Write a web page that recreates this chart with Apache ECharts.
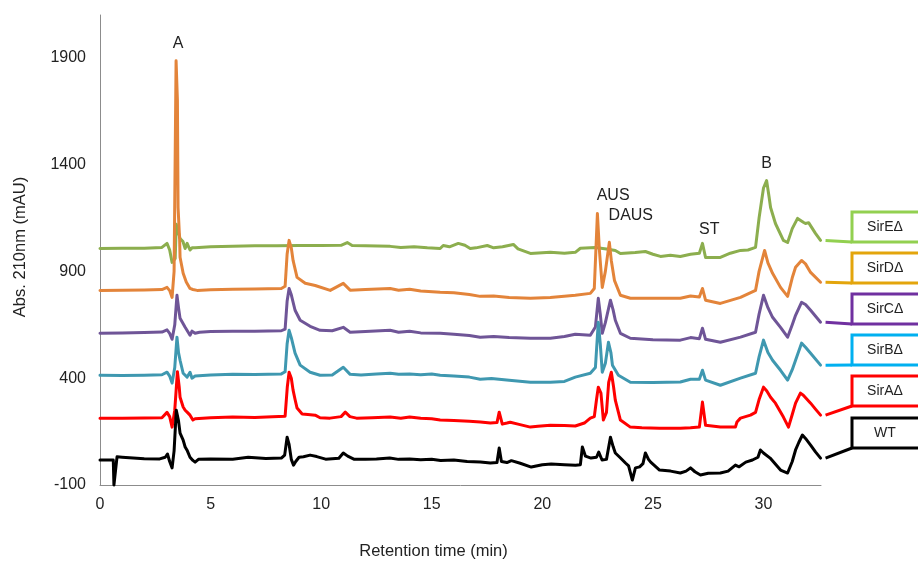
<!DOCTYPE html>
<html>
<head>
<meta charset="utf-8">
<script src="https://cdn.jsdelivr.net/npm/echarts@6/dist/echarts.min.js"></script>
<style>
html,body{margin:0;padding:0;background:#fff;}
#chart{width:918px;height:561px;}
</style>
</head>
<body>
<div id="chart"></div>
<script>
// ---- Data (retention time [min], absorbance [mAU]) ----
const seriesNames = ['SirE\u0394', 'SirD\u0394', 'SirC\u0394', 'SirB\u0394', 'SirA\u0394', 'WT'];

const sirE = [[0,1007],[1,1008],[2,1008],[2.8,1012],[3.03,1031],[3.15,1000],[3.26,942],[3.4,960],[3.45,1120],[3.62,1054],[3.75,1040],[3.85,1007],[3.94,1031],[4.07,1000],[4.16,1010],[4.3,1010],[5,1015],[6,1017],[7,1020],[8,1020],[9,1021],[10,1021],[10.9,1022],[11.18,1035],[11.4,1021],[12,1020],[13.12,1017],[13.6,1012],[14.2,1015],[14.8,1010],[15.38,1007],[15.52,1021],[15.8,1015],[16.2,1031],[16.5,1022],[16.74,1007],[17.0,1010],[17.51,1021],[17.8,1010],[18.2,1015],[18.69,1026],[18.9,1005],[19.46,984],[20.36,989],[21.0,985],[21.49,989],[21.72,1008],[22.4,1012],[22.9,1005],[23.3,998],[23.53,984],[24.2,988],[24.66,993],[25.0,980],[25.34,970],[25.79,975],[26.24,970],[26.7,980],[27.1,985],[27.24,1031],[27.38,965],[28.05,965],[28.5,985],[28.96,998],[29.3,1000],[29.64,1012],[29.8,1150],[30.0,1290],[30.14,1325],[30.25,1250],[30.32,1199],[30.54,1124],[30.9,1045],[31.09,1035],[31.3,1100],[31.54,1148],[31.8,1130],[31.9,1124],[32.04,1128],[32.35,1078],[32.58,1045]];

const sirD = [[0,811],[1,812],[2,813],[2.8,815],[3.03,825],[3.15,810],[3.26,778],[3.35,900],[3.44,1886],[3.5,1700],[3.53,1199],[3.6,1050],[3.62,966],[3.76,891],[3.9,850],[4.07,820],[4.2,815],[4.39,811],[5,814],[6,816],[7,817],[8.2,820],[8.37,830],[8.46,980],[8.55,1045],[8.65,1010],[8.73,951],[8.91,872],[9.28,844],[9.73,834],[10.41,811],[11.0,844],[11.31,812],[12,815],[13.12,820],[13.5,812],[14,816],[14.5,808],[15.38,802],[16,800],[16.7,792],[17.19,783],[17.8,785],[18.5,778],[19.46,774],[20.36,778],[21.49,788],[22.17,797],[22.35,820],[22.49,1171],[22.58,1000],[22.71,825],[22.85,900],[23.03,1036],[23.12,950],[23.26,858],[23.53,788],[23.98,774],[25,774],[26.24,774],[26.7,785],[27.1,780],[27.24,820],[27.38,765],[28.05,750],[28.96,778],[29.64,811],[29.8,900],[30.05,998],[30.2,940],[30.41,891],[30.77,825],[31.09,783],[31.3,870],[31.45,919],[31.72,951],[31.9,935],[32.13,895],[32.58,849]];

const sirC = [[0,610],[1,612],[2,614],[2.8,616],[3.03,626],[3.15,610],[3.26,582],[3.38,650],[3.48,788],[3.55,730],[3.62,680],[3.85,638],[4.07,601],[4.16,620],[4.3,610],[4.5,615],[5,618],[6,620],[7,620],[8.2,622],[8.37,630],[8.46,760],[8.55,820],[8.65,790],[8.82,718],[9.05,671],[9.5,643],[9.95,624],[10.5,622],[11.0,638],[11.31,615],[12,618],[13.12,624],[13.5,615],[14,620],[14.5,612],[15.38,610],[16,606],[16.7,600],[17.19,592],[17.8,595],[18.5,590],[19.46,587],[20.36,587],[21.0,595],[21.49,606],[22.17,601],[22.4,640],[22.53,774],[22.62,700],[22.71,610],[22.85,660],[23.08,765],[23.2,720],[23.3,671],[23.53,610],[23.98,587],[25,580],[26.24,578],[26.7,590],[27.1,585],[27.24,634],[27.38,582],[28.05,568],[28.96,592],[29.64,615],[29.8,700],[30.0,788],[30.2,730],[30.41,685],[30.77,638],[31.09,592],[31.3,650],[31.45,694],[31.72,755],[31.9,745],[32.13,718],[32.58,662]];

const sirB = [[0,414],[1,413],[2,414],[2.8,416],[3.03,428],[3.15,410],[3.26,377],[3.38,450],[3.48,592],[3.55,520],[3.62,484],[3.76,423],[3.94,405],[4.07,428],[4.16,400],[4.3,410],[4.39,414],[5,415],[6,418],[7,417],[8.2,420],[8.37,430],[8.46,560],[8.55,624],[8.65,590],[8.82,517],[9.05,461],[9.5,428],[9.95,414],[10.5,415],[11.0,451],[11.31,418],[11.8,415],[12.5,420],[13.12,423],[13.5,418],[14.0,420],[14.5,416],[15.0,420],[15.38,414],[16,410],[16.7,405],[17.19,395],[17.7,398],[18.5,390],[19.46,381],[20.36,381],[21.0,385],[21.49,405],[22.17,423],[22.4,450],[22.53,662],[22.62,560],[22.71,428],[22.85,470],[22.99,568],[23.1,520],[23.17,461],[23.44,414],[23.98,381],[25,380],[26.24,382],[26.7,395],[27.1,395],[27.24,437],[27.38,391],[28.05,367],[28.96,400],[29.64,423],[29.8,500],[30.0,578],[30.2,520],[30.41,484],[30.77,437],[31.09,391],[31.3,440],[31.45,484],[31.72,564],[31.9,545],[32.13,517],[32.58,461]];

const sirA = [[0,213],[1,213],[2,214],[2.8,215],[3.03,240],[3.15,220],[3.26,171],[3.38,250],[3.5,430],[3.58,360],[3.62,311],[3.76,265],[3.85,250],[3.95,240],[4.07,227],[4.15,235],[4.2,204],[4.3,210],[4.39,213],[5,215],[6,218],[7,216],[7.8,220],[8.37,222],[8.47,360],[8.55,428],[8.65,400],[8.73,344],[8.82,300],[8.91,260],[9.14,232],[9.4,230],[9.73,227],[9.95,215],[10.4,213],[10.9,220],[11.09,241],[11.3,220],[11.6,213],[12.3,215],[13.12,218],[13.6,212],[14.0,218],[14.5,212],[15.0,210],[15.38,204],[16,202],[16.7,198],[17.2,195],[17.65,190],[17.95,192],[18.05,241],[18.19,185],[18.4,190],[18.55,194],[18.9,185],[19.46,171],[19.8,175],[20.36,180],[21,178],[21.49,176],[21.9,190],[22.17,213],[22.35,220],[22.45,300],[22.53,358],[22.65,330],[22.76,204],[22.9,240],[23.0,380],[23.12,428],[23.22,360],[23.3,297],[23.53,204],[23.98,171],[24.5,168],[25.3,166],[26.24,166],[26.7,168],[27.1,171],[27.24,288],[27.38,180],[28.05,171],[28.73,171],[28.8,195],[28.96,213],[29.41,227],[29.64,240],[29.8,300],[30.0,358],[30.15,340],[30.32,311],[30.54,283],[30.9,218],[31.13,171],[31.3,230],[31.45,283],[31.67,330],[31.8,320],[32.13,283],[32.35,255],[32.58,227]];

const wt = [[0,17],[0.6,17],[0.63,-100],[0.7,-100],[0.77,32],[1.0,30],[1.5,26],[2.0,23],[2.7,22],[2.95,30],[3.05,45],[3.15,10],[3.26,-20],[3.35,60],[3.45,250],[3.55,200],[3.62,143],[3.76,110],[3.85,78],[3.95,60],[4.07,30],[4.2,15],[4.3,7],[4.45,20],[5.0,22],[6.0,21],[6.7,30],[7.5,24],[8.2,26],[8.35,40],[8.46,124],[8.55,90],[8.65,20],[8.75,-7],[8.85,10],[9.0,30],[9.2,32],[9.5,40],[9.8,33],[10.2,21],[10.8,25],[11.0,50],[11.2,35],[11.5,20],[12.0,21],[12.5,22],[13.1,26],[13.5,20],[14.0,22],[14.5,18],[15.0,20],[15.4,15],[16.0,17],[16.6,10],[17.2,8],[17.65,3],[17.95,5],[18.05,73],[18.15,10],[18.4,5],[18.6,14],[19.0,2],[19.5,-16],[20.0,-5],[20.4,-2],[21.0,-5],[21.5,-7],[21.72,-5],[21.81,78],[21.95,35],[22.2,26],[22.45,30],[22.55,54],[22.7,17],[22.9,20],[23.08,124],[23.2,80],[23.3,50],[23.5,30],[23.76,3],[23.9,-10],[24.07,-77],[24.21,-20],[24.4,-15],[24.55,0],[24.66,50],[24.8,20],[24.9,7],[25.3,-30],[25.8,-35],[26.24,-44],[26.5,-35],[26.7,-20],[26.9,-38],[27.15,-53],[27.5,-45],[28.05,-44],[28.4,-35],[28.73,-7],[28.9,-15],[29.2,7],[29.5,17],[29.75,30],[29.86,64],[30.0,50],[30.3,26],[30.77,-30],[31.09,-44],[31.3,10],[31.45,64],[31.6,100],[31.76,134],[31.9,118],[32.13,87],[32.35,55],[32.58,26]];

// peak annotations: [label, time, mAU]
const peakLabels = ['A', 'AUS', 'DAUS', 'ST', 'B'];
const peakTimes  = [3.53, 23.2, 24.0, 27.55, 30.14];
const peakValues = [1965, 1255, 1162, 1096, 1405];

// ---- Styles ----
const FONT = 'Liberation Sans, Arial, sans-serif';
const lineColors = ['#8CAE4E', '#E3843A', '#6F5597', '#3F98B0', '#FF0000', '#000000'];
const boxColors  = ['#92D050', '#E3A50C', '#7030A0', '#00B0F0', '#FF0000', '#000000'];
const boxTops = [212, 253, 294, 335, 376, 418];
const allData = [sirE, sirD, sirC, sirB, sirA, wt];

const chart = echarts.init(document.getElementById('chart'), null, {renderer: 'canvas'});

const option = {
  animation: false,
  backgroundColor: '#fff',
  grid: {left: 100, right: 97, top: 15, bottom: 76, containLabel: false, outerBoundsMode: 'none'},
  xAxis: {
    type: 'value', min: 0, max: 32.6, interval: 5,
    name: 'Retention time (min)', nameLocation: 'middle', nameGap: 58,
    nameTextStyle: {fontFamily: FONT, fontSize: 16.5, color: '#222', padding: [0, 54, 0, 0]},
    axisLine: {show: true, onZero: false, lineStyle: {color: '#8c8c8c', width: 1}},
    axisTick: {show: false},
    splitLine: {show: false},
    axisLabel: {fontFamily: FONT, fontSize: 16, color: '#222', margin: 12, showMaxLabel: false,
      formatter: v => String(v)}
  },
  yAxis: {
    type: 'value', min: -100, max: 2100, interval: 500,
    name: 'Abs. 210nm (mAU)', nameLocation: 'middle', nameGap: 71, nameRotate: 90,
    nameTextStyle: {fontFamily: FONT, fontSize: 16.5, color: '#222', padding: [0, 0, 0, 6]},
    axisLine: {show: true, onZero: false, lineStyle: {color: '#8c8c8c', width: 1}},
    axisTick: {show: false},
    splitLine: {show: false},
    axisLabel: {fontFamily: FONT, fontSize: 16, color: '#222', margin: 14, showMaxLabel: false,
      formatter: v => String(v)}
  },
  series: seriesNames.map((n, i) => ({
    name: n, type: 'line', data: allData[i],
    showSymbol: false, symbol: 'none', smooth: false,
    lineStyle: {color: lineColors[i], width: 3, join: 'round', cap: 'round'},
    itemStyle: {color: lineColors[i]},
    z: 2 + i, clip: false
  }))
};
chart.setOption(option);

// ---- Annotations & labelled boxes (positions derived from data via the axes) ----
const g = [];
peakLabels.forEach((lab, i) => {
  const p = chart.convertToPixel({gridIndex: 0}, [peakTimes[i], peakValues[i]]);
  g.push({type: 'text', x: p[0], y: p[1], z: 20,
    style: {text: lab, font: '16px ' + FONT, fill: '#222', align: 'center', verticalAlign: 'middle'}});
});
seriesNames.forEach((n, i) => {
  const d = allData[i];
  const last = chart.convertToPixel({gridIndex: 0}, d[d.length - 1]);
  const top = boxTops[i], h = 30, left = 852;
  g.push({type: 'line', z: 20, shape: {x1: last[0] + 5, y1: last[1], x2: left, y2: top + h},
    style: {stroke: boxColors[i], lineWidth: 3}});
  g.push({type: 'rect', z: 20, shape: {x: left, y: top, width: 90, height: h},
    style: {fill: '#fff', stroke: boxColors[i], lineWidth: 3}});
  g.push({type: 'text', z: 21, x: 885, y: top + h / 2,
    style: {text: n, font: '14px ' + FONT, fill: '#222', align: 'center', verticalAlign: 'middle'}});
});
chart.setOption({graphic: g});
</script>
</body>
</html>
